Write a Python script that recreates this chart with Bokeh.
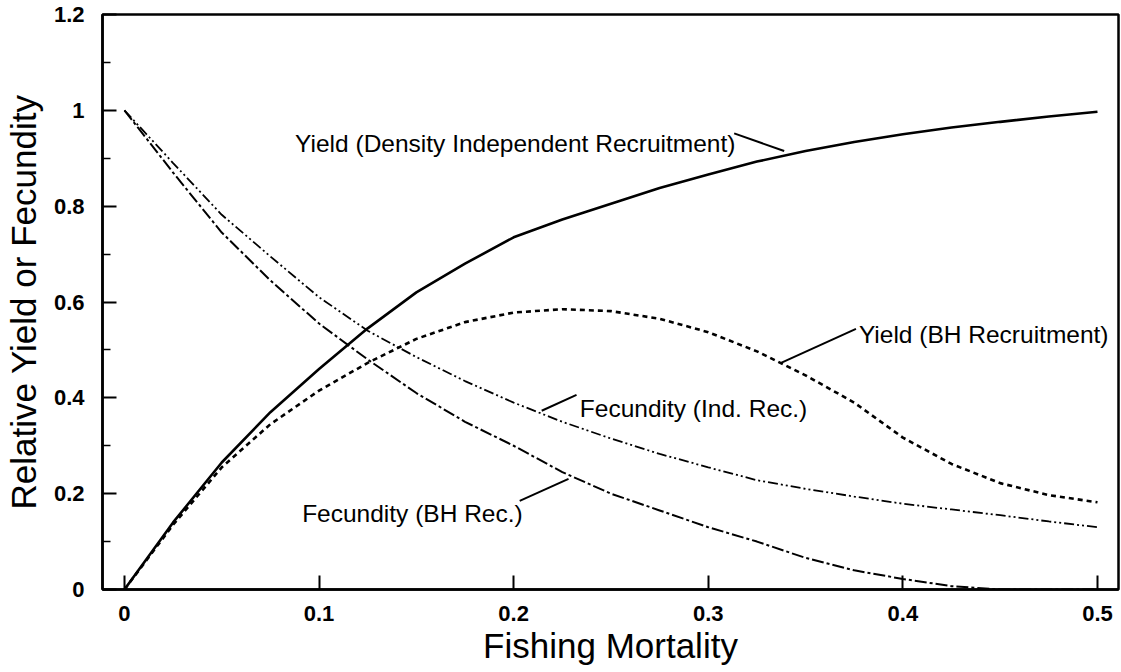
from bokeh.plotting import figure
from bokeh.models import Range1d, FixedTicker
from bokeh.embed import file_html
from bokeh.resources import INLINE
from bokeh.core.properties import value

# ---- data ----
fishing_mortality = [0.0, 0.025, 0.05, 0.075, 0.1, 0.125, 0.15, 0.175, 0.2, 0.225, 0.25,
                     0.275, 0.3, 0.325, 0.35, 0.375, 0.4, 0.425, 0.45, 0.475, 0.5]
yield_density_indep = [0.0, 0.14, 0.265, 0.37, 0.46, 0.545, 0.62, 0.68, 0.735, 0.772, 0.805,
                       0.838, 0.866, 0.893, 0.915, 0.934, 0.95, 0.964, 0.976, 0.987, 0.997]
yield_bh = [0.0, 0.135, 0.255, 0.345, 0.415, 0.473, 0.523, 0.558, 0.578, 0.585, 0.581,
            0.565, 0.537, 0.497, 0.447, 0.39, 0.317, 0.262, 0.222, 0.197, 0.182]
fecundity_ind = [1.0, 0.89, 0.782, 0.695, 0.61, 0.54, 0.485, 0.435, 0.39, 0.35, 0.315,
                 0.283, 0.255, 0.228, 0.21, 0.194, 0.179, 0.167, 0.155, 0.142, 0.13]
fecundity_bh = [1.0, 0.87, 0.745, 0.645, 0.555, 0.48, 0.41, 0.35, 0.3, 0.245, 0.2,
                0.165, 0.13, 0.1, 0.066, 0.04, 0.022, 0.007, 0.0, 0.0, 0.0]

x_tick_values = [0.0, 0.1, 0.2, 0.3, 0.4, 0.5]
x_tick_labels = ["0", "0.1", "0.2", "0.3", "0.4", "0.5"]
y_tick_values = [0.0, 0.2, 0.4, 0.6, 0.8, 1.0, 1.2]
y_tick_labels = ["0", "0.2", "0.4", "0.6", "0.8", "1", "1.2"]
y_minor_ticks = [0.1, 0.3, 0.5, 0.7, 0.9, 1.1]

ann_text = ["Yield (Density Independent Recruitment)", "Yield (BH Recruitment)",
            "Fecundity (Ind. Rec.)", "Fecundity (BH Rec.)"]
ann_x = [0.0877, 0.3774, 0.234, 0.0913]
ann_y = [0.931, 0.533, 0.3785, 0.158]
ptr_x0 = [0.3133, 0.3759, 0.2323, 0.2031]
ptr_y0 = [0.952, 0.544, 0.406, 0.185]
ptr_x1 = [0.339, 0.3374, 0.2144, 0.2282]
ptr_y1 = [0.915, 0.473, 0.373, 0.231]

FONT = "Liberation Sans"

p = figure(width=1121, height=672, output_backend="svg", toolbar_location=None,
           x_range=Range1d(-0.01128, 0.5108), y_range=Range1d(0, 1.2),
           min_border_left=100, min_border_right=3, min_border_top=14, min_border_bottom=83)
p.xgrid.grid_line_color = None
p.ygrid.grid_line_color = None
p.outline_line_color = "black"
p.outline_line_width = 2.5
p.background_fill_color = "white"
p.border_fill_color = "white"

# axes
p.xaxis.ticker = FixedTicker(ticks=x_tick_values)
p.xaxis.major_label_overrides = dict(zip(x_tick_values, x_tick_labels))
p.yaxis.ticker = FixedTicker(ticks=y_tick_values, minor_ticks=y_minor_ticks)
p.yaxis.major_label_overrides = dict(zip(y_tick_values, y_tick_labels))
for ax in (p.xaxis[0], p.yaxis[0]):
    ax.axis_line_width = 2.5
    ax.axis_line_color = "black"
    ax.major_tick_in = 14
    ax.major_tick_out = 0
    ax.major_tick_line_width = 2
    ax.minor_tick_in = 8
    ax.minor_tick_out = 0
    ax.minor_tick_line_width = 1.5
    ax.major_label_text_font = FONT
    ax.major_label_text_font_style = "bold"
    ax.major_label_text_font_size = "22px"
    ax.major_label_text_color = "black"
    ax.axis_label_text_font = FONT
    ax.axis_label_text_font_style = "normal"
    ax.axis_label_text_color = "black"
p.xaxis.minor_tick_line_color = None
p.xaxis.axis_label = "Fishing Mortality"
p.xaxis.axis_label_text_font_size = "35px"
p.xaxis.major_label_standoff = 16
p.xaxis.axis_label_standoff = 2
p.yaxis.axis_label = "Relative Yield or Fecundity"
p.yaxis.axis_label_text_font_size = "35px"
p.yaxis.major_label_standoff = 18
p.yaxis.axis_label_standoff = 8

# curves
p.line(fishing_mortality, yield_density_indep, line_color="black", line_width=2.6)
p.line(fishing_mortality, yield_bh, line_color="black", line_width=2.6, line_dash="5 4")
p.line(fishing_mortality, fecundity_ind, line_color="black", line_width=1.8,
       line_dash="10 3 2 3 2 3")
p.line(fishing_mortality, fecundity_bh, line_color="black", line_width=2,
       line_dash="12 3 3 3")

# annotations
p.segment(x0=ptr_x0, y0=ptr_y0, x1=ptr_x1, y1=ptr_y1, line_color="black", line_width=2)
p.text(x=ann_x, y=ann_y, text=ann_text, text_font=value(FONT), text_font_size="24.5px",
       text_color="black", text_baseline="alphabetic", text_align="left")

open("out.html", "w").write(file_html(p, INLINE))
